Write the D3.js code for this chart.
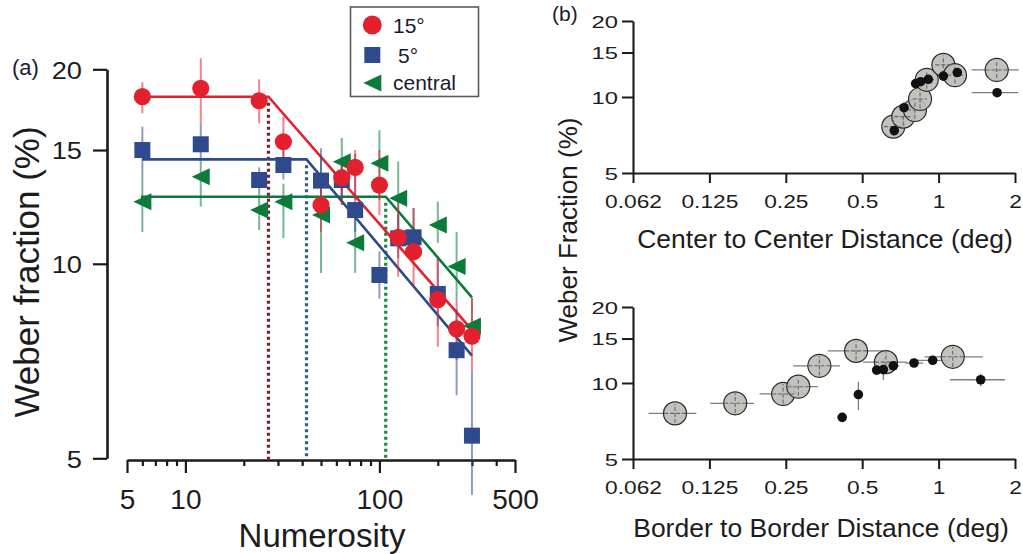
<!DOCTYPE html>
<html><head><meta charset="utf-8">
<script src="https://cdn.jsdelivr.net/npm/d3@7"></script>
<style>
html,body{margin:0;padding:0;background:#fff;}
svg{display:block;font-family:"Liberation Sans",Arial,Helvetica,sans-serif;}
</style></head><body>
<svg id="chart" width="1023" height="554"></svg>
<script>
// ---------- Panel (a) data ----------
const numA = [6,12,24,32,50,64,75,100,125,150,200,250,300];
const red15   = [18.14,18.69,17.88,15.45,12.33,13.59,14.1,13.24,10.99,10.44,8.8,7.93,7.73];
const red15Lo = [17.1,16.4,16.5,14.1,11.2,12.33,12.55,11.9,9.55,9.2,7.44,7.1,6.8];
const red15Hi = [19.1,20.8,19.3,16.9,13.5,14.5,15.0,15.0,12.48,12.2,10.2,8.79,8.85];
const blue5   = [15.0,15.31,13.48,14.22,13.45,13.48,12.11,9.61,10.95,10.99,8.98,7.35,5.42];
const blue5Lo = [13.8,14.4,12.86,13.5,12.7,12.5,11.2,8.83,10.2,10.4,8.0,6.26,4.39];
const blue5Hi = [16.3,16.4,14.1,15.0,15.1,14.5,14.8,10.45,11.9,12.2,10.2,8.5,6.8];
const numGreen = [6,12,24,32,50,64,75,100,125,200,250,300];
const central   = [12.48,13.64,12.11,12.48,11.9,14.39,10.78,14.31,12.63,11.48,9.9,8.01];
const centralLo = [11.2,12.26,11.28,10.96,9.68,12.33,9.68,12.55,11.28,10.77,8.79,7.5];
const centralHi = [13.8,14.4,12.86,13.3,14.6,15.66,12.0,16.1,14.4,12.48,11.2,8.85];
// bilinear fits: start, knee, end
const fitRedN = [6,26.8,300],   fitRedV = [18.14,18.14,7.9];
const fitBlueN = [6,42.1,300],  fitBlueV = [14.51,14.51,7.21];
const fitGreenN = [5.9,107.8,300], fitGreenV = [12.7,12.7,8.87];
const legendLabels = ["15°","5°","central"];
const xTicksA = [5,6,7,8,9,10,20,30,40,50,60,70,80,90,100,200,300,400,500];
const xLabelsA = [5,10,100,500];
const yTicksA = [5,10,15,20];

// ---------- Panel (b) data ----------
const xTicksB = [0.0625,0.125,0.25,0.5,1,2];
const xTickLabelsB = ["0.062","0.125","0.25","0.5","1","2"];
const yTicksB = [5,10,15,20];
// top: center to center
const ccGrayX = [0.663,0.726,0.807,0.845,0.898,1.044,1.16,1.694];
const ccGrayY = [7.63,8.36,8.88,9.82,11.7,13.4,12.2,12.8];
const ccGrayXLo = [0.61,0.67,0.75,0.79,0.84,0.97,1.08,1.35];
const ccGrayXHi = [0.72,0.79,0.87,0.90,0.96,1.12,1.25,2.07];
const ccGrayYLo = [7.0,7.7,8.2,9.0,10.8,12.3,11.3,11.9];
const ccGrayYHi = [8.3,9.1,9.6,10.7,12.7,14.6,13.2,13.8];
const ccBlackX = [0.669,0.731,0.812,0.85,0.911,1.044,1.185,1.70];
const ccBlackY = [7.36,9.07,11.3,11.5,11.75,12.1,12.5,10.4];
const ccBlackXLo = [0.65,0.70,0.78,0.82,0.86,1.0,1.13,1.35];
const ccBlackXHi = [0.69,0.76,0.85,0.88,0.96,1.09,1.24,2.06];
const ccBlackYLo = [7.1,8.6,10.9,11.1,11.3,11.7,12.1,10.0];
const ccBlackYHi = [7.6,9.6,11.7,11.9,12.2,12.5,12.9,10.8];
// bottom: border to border
const bbGrayX = [0.0915,0.158,0.244,0.28,0.339,0.473,0.62,1.137];
const bbGrayY = [7.58,8.31,9.05,9.67,11.7,13.4,12.1,12.7];
const bbGrayXLo = [0.072,0.126,0.197,0.244,0.267,0.366,0.504,0.881];
const bbGrayXHi = [0.111,0.187,0.302,0.334,0.409,0.604,0.749,1.494];
const bbGrayYLo = [6.95,7.6,8.3,8.9,10.7,12.3,11.1,11.6];
const bbGrayYHi = [8.25,9.1,9.9,10.5,12.8,14.6,13.2,13.9];
const bbBlackX = [0.417,0.483,0.57,0.606,0.663,0.8,0.948,1.465];
const bbBlackY = [7.31,9.0,11.25,11.3,11.7,12.0,12.3,10.3];
const bbBlackXLo = [0.40,0.47,0.55,0.58,0.63,0.74,0.82,1.11];
const bbBlackXHi = [0.43,0.50,0.59,0.64,0.70,0.87,1.10,1.825];
const bbBlackYLo = [7.1,7.82,10.9,10.27,11.3,11.6,11.9,9.7];
const bbBlackYHi = [7.5,10.1,11.6,12.56,12.1,12.4,12.7,10.9];

// ---------- drawing ----------
const svg = d3.select('#chart');
const RED = '#e2202e', BLUE = '#2f4a8c', GREEN = '#0b7a3b';
const TXT = '#1c1c1c';

const xA = d3.scaleLog().domain([5,500]).range([127,515]);
const yA = d3.scaleLog().domain([5,20]).range([458.3,69.3]);

// axes (a)
const gxA = svg.append('g').attr('transform','translate(0,460)')
  .call(d3.axisBottom(xA).tickValues(xTicksA).tickSize(6).tickSizeOuter(0)
    .tickFormat(d => xLabelsA.includes(d) ? String(d) : ''));
gxA.select('.domain').attr('stroke','#1a1a1a').attr('stroke-width',2.6);
gxA.selectAll('.tick line').attr('stroke','#1a1a1a').attr('stroke-width',2.2)
  .attr('y2', d => xLabelsA.includes(d) ? 13 : 6);
gxA.selectAll('.tick text').attr('font-size',28).attr('fill',TXT).attr('dy','0').attr('y',49)
  .attr('font-family','"Liberation Sans",Arial,sans-serif');

const gyA = svg.append('g').attr('transform','translate(107,0)')
  .call(d3.axisLeft(yA).tickValues(yTicksA).tickSize(14).tickSizeOuter(0).tickFormat(d3.format('d')));
gyA.select('.domain').attr('stroke','#1a1a1a').attr('stroke-width',2.6);
gyA.selectAll('.tick line').attr('stroke','#1a1a1a').attr('stroke-width',2.2);
gyA.selectAll('.tick text').attr('font-size',23.5).attr('fill',TXT).attr('dy','0.38em')
  .attr('x', -25/1.16).attr('transform','scale(1.16,1)')
  .attr('font-family','"Liberation Sans",Arial,sans-serif');

// titles (a)
svg.append('text').attr('transform','translate(39,272) rotate(-90)').attr('text-anchor','middle')
  .attr('font-size',35).attr('fill',TXT).text('Weber fraction (%)');
svg.append('text').attr('x',322).attr('y',547).attr('text-anchor','middle')
  .attr('font-size',33).attr('fill',TXT).text('Numerosity');
svg.append('text').attr('x',12).attr('y',75).attr('font-size',22).attr('fill','#1a1a2e').text('(a)');

const seriesA = [
  {n:numGreen, v:central, lo:centralLo, hi:centralHi, color:GREEN, shape:'tri', fn:fitGreenN, fv:fitGreenV, dot:'#17893f'},
  {n:numA, v:blue5, lo:blue5Lo, hi:blue5Hi, color:BLUE, shape:'sq', fn:fitBlueN, fv:fitBlueV, dot:'#2b5e92'},
  {n:numA, v:red15, lo:red15Lo, hi:red15Hi, color:RED, shape:'circ', fn:fitRedN, fv:fitRedV, dot:'#7a1f2b'}
];
const lineA = d3.line().x(d => xA(d[0])).y(d => yA(d[1]));

// dotted knee lines
seriesA.forEach(s => {
  svg.append('line').attr('x1',xA(s.fn[1])).attr('x2',xA(s.fn[1]))
    .attr('y1',yA(s.fv[1])+6).attr('y2',459)
    .attr('stroke',s.dot).attr('stroke-width',3.2).attr('stroke-dasharray','3,3');
});
// fit lines
seriesA.forEach(s => {
  svg.append('path').attr('d', lineA(s.fn.map((n,i)=>[n,s.fv[i]])))
    .attr('fill','none').attr('stroke',s.color).attr('stroke-width',2.6);
});
// error bars
seriesA.forEach(s => {
  svg.append('g').selectAll('line').data(s.n).join('line')
    .attr('x1',d=>xA(d)).attr('x2',d=>xA(d))
    .attr('y1',(d,i)=>yA(s.lo[i])).attr('y2',(d,i)=>yA(s.hi[i]))
    .attr('stroke',s.color).attr('stroke-opacity',0.55).attr('stroke-width',2);
});
// markers
const triPath = 'M-9,0L9,-8.5L9,8.5Z';
function marker(g, shape, color, x, y, scale){
  scale = scale || 1;
  if(shape==='circ') g.append('circle').attr('cx',x).attr('cy',y).attr('r',8.6*scale).attr('fill',color);
  else if(shape==='sq') g.append('rect').attr('x',x-8*scale).attr('y',y-8*scale).attr('width',16*scale).attr('height',16*scale).attr('fill',color);
  else g.append('path').attr('d',triPath).attr('transform',`translate(${x},${y}) scale(${scale})`).attr('fill',color);
}
seriesA.forEach(s => {
  const g = svg.append('g');
  s.n.forEach((n,i) => marker(g, s.shape, s.color, xA(n), yA(s.v[i])));
});

// legend
const lg = svg.append('g');
lg.append('rect').attr('x',350.5).attr('y',7).attr('width',128).attr('height',89.5)
  .attr('fill','#fff').attr('stroke','#5a5a5a').attr('stroke-width',1.6);
const legendShapes = ['circ','sq','tri'], legendColors = [RED,BLUE,GREEN];
const legendY = [25,55,83], legendTX = [393,398,393], legendTY = [33,63,90];
legendLabels.forEach((lab,i) => {
  marker(lg, legendShapes[i], legendColors[i], 372.3, legendY[i], i===0?1.1:1.0);
  lg.append('text').attr('x',legendTX[i]).attr('y',legendTY[i]).attr('font-size',21)
    .attr('fill','#1a1a2e').text(lab);
});

// ---------- Panel (b) ----------
const xB = d3.scaleLog().base(2).domain([0.0625,2]).range([633,1015]);
const yBt = d3.scaleLog().domain([5,20]).range([173,21]);
const yBb = d3.scaleLog().domain([5,20]).range([459,307]);

function axesB(yS, y0){
  const gx = svg.append('g').attr('transform',`translate(0,${y0})`)
    .call(d3.axisBottom(xB).tickValues(xTicksB).tickSize(10).tickSizeOuter(0)
      .tickFormat((d,i)=>xTickLabelsB[i]));
  gx.select('.domain').attr('stroke','#1a1a1a').attr('stroke-width',2.1);
  gx.selectAll('.tick line').attr('stroke','#1a1a1a').attr('stroke-width',2);
  gx.selectAll('.tick text').attr('font-size',17.5).attr('fill',TXT).attr('dy','0').attr('y',35)
    .attr('transform','scale(1.3,1)').attr('font-family','"Liberation Sans",Arial,sans-serif');
  const gy = svg.append('g').attr('transform','translate(633,0)')
    .call(d3.axisLeft(yS).tickValues(yTicksB).tickSize(11).tickSizeOuter(0).tickFormat(d3.format('d')));
  gy.select('.domain').attr('stroke','#1a1a1a').attr('stroke-width',2.1);
  gy.selectAll('.tick line').attr('stroke','#1a1a1a').attr('stroke-width',2);
  gy.selectAll('.tick text').attr('font-size',17).attr('fill',TXT).attr('dy','0.37em')
    .attr('x',-15/1.4).attr('transform','scale(1.4,1)')
    .attr('font-family','"Liberation Sans",Arial,sans-serif');
}
axesB(yBt,173);
axesB(yBb,459);

function scatterB(yS, gx, gy, gxl, gxh, gyl, gyh, bx, by, bxl, bxh, byl, byh){
  const g = svg.append('g');
  const ERR = '#7d7d7d';
  gx.forEach((x,i) => {
    g.append('line').attr('x1',xB(gxl[i])).attr('x2',xB(gxh[i])).attr('y1',yS(gy[i])).attr('y2',yS(gy[i]))
      .attr('stroke',ERR).attr('stroke-width',1.3);
  });
  bx.forEach((x,i) => {
    g.append('line').attr('x1',xB(bxl[i])).attr('x2',xB(bxh[i])).attr('y1',yS(by[i])).attr('y2',yS(by[i]))
      .attr('stroke',ERR).attr('stroke-width',1.3);
    g.append('line').attr('x1',xB(x)).attr('x2',xB(x)).attr('y1',yS(byl[i])).attr('y2',yS(byh[i]))
      .attr('stroke',ERR).attr('stroke-width',1.3);
  });
  gx.forEach((x,i) => {
    g.append('circle').attr('cx',xB(x)).attr('cy',yS(gy[i])).attr('r',11.5)
      .attr('fill','#bebeb9').attr('fill-opacity',0.92).attr('stroke','#2a2a2a').attr('stroke-width',1.2);
  });
  gx.forEach((x,i) => {
    g.append('line').attr('x1',xB(x)).attr('x2',xB(x)).attr('y1',yS(gyl[i])).attr('y2',yS(gyh[i]))
      .attr('stroke','#6a6a6a').attr('stroke-width',1.1).attr('stroke-dasharray','4,2');
    g.append('line').attr('x1',Math.max(xB(gxl[i]),xB(x)-11)).attr('x2',Math.min(xB(gxh[i]),xB(x)+11))
      .attr('y1',yS(gy[i])).attr('y2',yS(gy[i]))
      .attr('stroke','#6a6a6a').attr('stroke-width',1.1).attr('stroke-dasharray','4,2');
  });
  bx.forEach((x,i) => {
    g.append('circle').attr('cx',xB(x)).attr('cy',yS(by[i])).attr('r',4.8).attr('fill','#111');
  });
}
scatterB(yBt, ccGrayX, ccGrayY, ccGrayXLo, ccGrayXHi, ccGrayYLo, ccGrayYHi,
  ccBlackX, ccBlackY, ccBlackXLo, ccBlackXHi, ccBlackYLo, ccBlackYHi);
scatterB(yBb, bbGrayX, bbGrayY, bbGrayXLo, bbGrayXHi, bbGrayYLo, bbGrayYHi,
  bbBlackX, bbBlackY, bbBlackXLo, bbBlackXHi, bbBlackYLo, bbBlackYHi);

svg.append('text').attr('x',825).attr('y',248).attr('text-anchor','middle').attr('font-size',26.5)
  .attr('fill',TXT).text('Center to Center Distance (deg)');
svg.append('text').attr('x',821).attr('y',537).attr('text-anchor','middle').attr('font-size',26.5)
  .attr('fill',TXT).text('Border to Border Distance (deg)');
svg.append('text').attr('transform','translate(577,230) rotate(-90)').attr('text-anchor','middle')
  .attr('font-size',26).attr('fill',TXT).text('Weber Fraction (%)');
svg.append('text').attr('x',552).attr('y',21).attr('font-size',21).attr('fill','#1a1a2e').text('(b)');
</script></body></html>
